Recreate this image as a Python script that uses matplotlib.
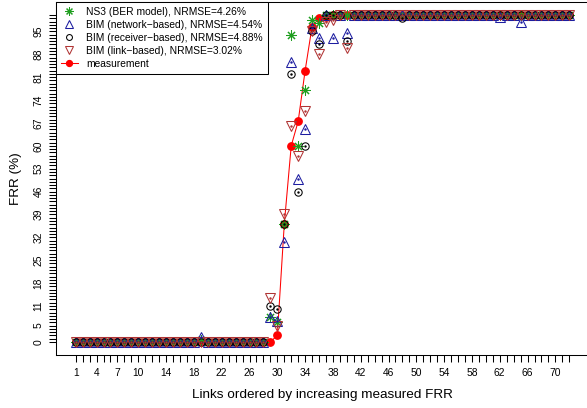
import matplotlib
matplotlib.use("Agg")
import matplotlib.pyplot as plt

plt.rcParams['font.family'] = ['Liberation Sans', 'DejaVu Sans']

# links 1..72, ordered by increasing measured FRR (%)
links = list(range(1, 73))

measurement = [0, 0, 0, 0, 0, 0, 0, 0, 0, 0, 0, 0,
               0, 0, 0, 0, 0, 0, 0, 0, 0, 0, 0, 0,
               0, 0, 0, 0, 0, 2, 36, 60, 67.5, 83, 96.5, 99,
               99.5, 100, 100, 100, 100, 100, 100, 100, 100, 100, 100, 100,
               100, 100, 100, 100, 100, 100, 100, 100, 100, 100, 100, 100,
               100, 100, 100, 100, 100, 100, 100, 100, 100, 100, 100, 100]

ns3 = [0, 0, 0, 0, 0, 0, 0, 0, 0, 0, 0, 0,
       0, 0, 0, 0, 0, 0, 0.5, 0, 0, 0, 0, 0,
       0, 0, 0, 0, 7.5, 6, 36, 94, 60, 77, 98.5, 97.5,
       100, 100, 100, 100, 100, 100, 100, 100, 100, 100, 100, 100,
       100, 100, 100, 100, 100, 100, 100, 100, 100, 100, 100, 100,
       100, 100, 100, 100, 100, 100, 100, 100, 100, 100, 100, 100]

bim_network = [0, 0, 0, 0, 0, 0, 0, 0, 0, 0, 0, 0,
               0, 0, 0, 0, 0, 0, 1.5, 0, 0, 0, 0, 0,
               0, 0, 0, 0, 7.5, 6.5, 30.5, 85.5, 50, 65, 96, 93,
               100, 93, 100, 94.5, 100, 100, 100, 100, 100, 100, 100, 100,
               100, 100, 100, 100, 100, 100, 100, 100, 100, 100, 100, 100,
               100, 99.5, 100, 100, 98, 100, 100, 100, 100, 100, 100, 100]

bim_receiver = [0, 0, 0, 0, 0, 0, 0, 0, 0, 0, 0, 0,
                0, 0, 0, 0, 0, 0, 0, 0, 0, 0, 0, 0,
                0, 0, 0, 0, 11, 10, 36, 82, 46, 60, 95, 91,
                100, 100, 100, 92, 100, 100, 100, 100, 100, 100, 100, 99,
                100, 100, 100, 100, 100, 100, 100, 100, 100, 100, 100, 100,
                100, 100, 100, 100, 100, 100, 100, 100, 100, 100, 100, 100]

bim_link = [0, 0, 0, 0, 0, 0, 0, 0, 0, 0, 0, 0,
            0, 0, 0, 0, 0, 0, 0, 0, 0, 0, 0, 0,
            0, 0, 0, 0, 13.5, 5, 39, 66, 57, 70.5, 95, 88,
            98, 98.5, 100, 90, 100, 100, 100, 100, 100, 100, 100, 100,
            100, 100, 100, 100, 100, 100, 100, 100, 100, 100, 100, 100,
            100, 100, 100, 100, 100, 100, 100, 100, 100, 100, 100, 100]

labels = ["NS3 (BER model), NRMSE=4.26%",
          "BIM (network\u2212based), NRMSE=4.54%",
          "BIM (receiver\u2212based), NRMSE=4.88%",
          "BIM (link\u2212based), NRMSE=3.02%",
          "measurement"]

xtick_labels = [1, 4, 7, 10, 14, 18, 22, 26, 30, 34, 38, 42, 46, 50, 54, 58, 62, 66, 70]
ytick_labels = [0, 5, 11, 18, 25, 32, 39, 46, 53, 60, 67, 74, 81, 88, 95]

green = '#1e9e1e'
blue = '#1c1ca0'
brown = '#b03434'
red = '#ff0000'

fig = plt.figure(figsize=(5.87, 4.08), dpi=100)
# box runs past the right edge, as in the cropped original
ax = fig.add_axes([56 / 587, 53 / 408, 533 / 587, 353 / 408])

lw = 0.75
# measurement drawn first, models over it
h_meas, = ax.plot(links, measurement, color=red, lw=lw, marker='o', ms=5.3,
                  mec=red, mfc=red, zorder=2)
h_ns3, = ax.plot(links, ns3, ls='none', marker=(8, 2, 0), ms=7.2,
                 mec=green, mew=lw, zorder=3)
h_net, = ax.plot(links, bim_network, ls='none', marker='^', ms=6.8,
                 mfc='none', mec=blue, mew=lw, zorder=4)
h_rec, = ax.plot(links, bim_receiver, ls='none', marker='o', ms=5.3,
                 mfc='none', mec='black', mew=lw, zorder=5)
h_lnk, = ax.plot(links, bim_link, ls='none', marker='v', ms=6.8,
                 mfc='none', mec=brown, mew=lw, zorder=6)
# small centre dots seen inside the open markers
for ys, c in [(bim_network, blue), (bim_receiver, 'black'), (bim_link, brown)]:
    ax.plot(links, ys, ls='none', marker='.', ms=1.5, color=c, zorder=6)

ax.set_xlim(-1.84, 74.84)
ax.set_ylim(-4, 104)

ax.set_xticks(links)
ax.set_xticklabels([str(i) if i in xtick_labels else '' for i in links])
yt = list(range(0, 101))
ax.set_yticks(yt)
ax.set_yticklabels([str(i) if i in ytick_labels else '' for i in yt],
                   rotation=90, va='center')
ax.tick_params(axis='both', direction='out', length=5, width=0.75,
               labelsize=7.4, pad=4)

for s in ax.spines.values():
    s.set_linewidth(0.75)

ax.set_xlabel("Links ordered by increasing measured FRR", fontsize=9.7, labelpad=8)
ax.set_ylabel("FRR (%)", fontsize=9.7, labelpad=8)

leg = ax.legend([h_ns3, h_net, h_rec, h_lnk, h_meas], labels,
                loc='upper left', bbox_to_anchor=(0, 1), borderaxespad=0,
                fancybox=False, edgecolor='black', framealpha=1,
                fontsize=7.4, markerscale=0.8, handlelength=1.7,
                handletextpad=0.8, labelspacing=0.3, borderpad=0.45)
leg.get_frame().set_linewidth(0.75)
leg.set_zorder(10)

fig.savefig("out.png", dpi=100)
